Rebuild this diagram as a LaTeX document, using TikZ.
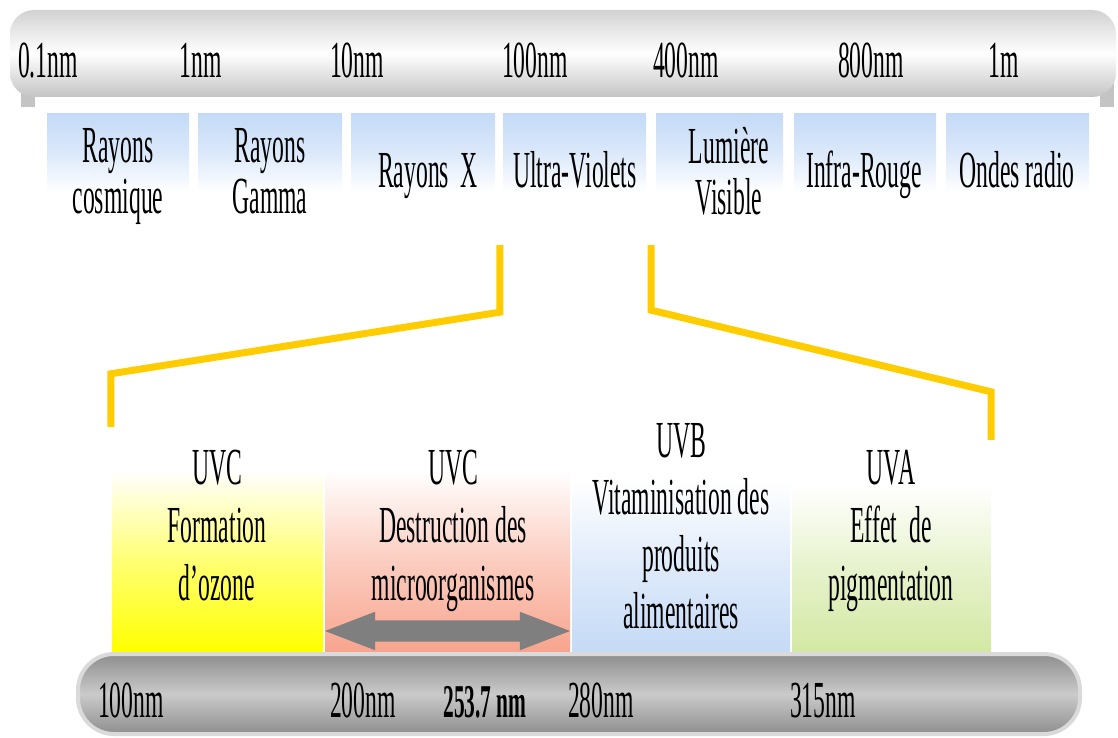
\documentclass[tikz,border=0pt]{standalone}
\usepackage{fontspec}
\setmainfont{Liberation Serif}[FakeStretch=0.455]
\usetikzlibrary{shapes.arrows}
\definecolor{barlight}{HTML}{D2D2D2}
\definecolor{bardark}{HTML}{C4C4C4}
\definecolor{bandblue}{HTML}{C4DAF7}
\definecolor{uvyellow}{HTML}{FFCC00}
\definecolor{ozoneyellow}{HTML}{FFFF00}
\definecolor{germred}{HTML}{F8A48D}
\definecolor{vitblue}{HTML}{C5DAF6}
\definecolor{piggreen}{HTML}{D3E8A3}
\definecolor{arrowgray}{HTML}{7F7F7F}
\definecolor{lowdark}{HTML}{8E8E8E}
\definecolor{lowmid}{HTML}{CACACA}
\definecolor{lowedge}{HTML}{DADADA}
\tikzset{
  every node/.style={inner sep=0pt},
  scale label/.style={anchor=base, font=\fontsize{52}{51}\selectfont},
  band label/.style={anchor=base, align=center, font=\fontsize{52}{51}\selectfont},
  panel label/.style={anchor=base, align=center, font=\fontsize{52}{58}\selectfont},
  band/.style={top color=bandblue, bottom color=white, middle color=bandblue!60, minimum height=78pt},
  panel/.style={top color=white, bottom color=#1, middle color=#1!55},
  bracket/.style={draw=uvyellow, line width=7pt},
}

\begin{document}
\begin{tikzpicture}[x=1pt, y=-1pt]
\useasboundingbox (0,0) rectangle (1118,738);
% Spectrum bar
    \fill[bardark] (21,80) rectangle (35,107);
    \fill[bardark] (1100,80) rectangle (1114,107);
    \shade[top color=barlight, bottom color=bardark, middle color=white, rounded corners=24pt] (10,10) rectangle (1116,97);
    \node[scale label] (s01) at (48,78) {0.1nm};
    \node[scale label] (s1) at (201,78) {1nm};
    \node[scale label] (s10) at (357,78) {10nm};
    \node[scale label] (s100) at (535,78) {100nm};
    \node[scale label] (s400) at (686,78) {400nm};
    \node[scale label] (s800) at (871,78) {800nm};
    \node[scale label] (s1m) at (1004,78) {1m};
% Domains
    \foreach \n/\x/\w in {cosmic/118/142, gamma/270/144, xray/423/144, uv/574.5/143,
                          visible/719.5/127, ir/865/142, radio/1017.5/143}
        \node[band, minimum width=\w pt] (\n) at (\x,153) {};
    \node[band label] (cosmicT) at (118,213) {Rayons\\cosmique};
    \node[band label] (gammaT) at (270,213) {Rayons\\Gamma};
    \node[band label] (xrayT) at (428,188) {Rayons\ \ X};
    \node[band label] (uvT) at (575,188) {Ultra-Violets};
    \node[band label] (visibleT) at (729,214) {Lumière\\Visible};
    \node[band label] (irT) at (864,188) {Infra-Rouge};
    \node[band label] (radioT) at (1017,188) {Ondes radio};
% UV detail
    \node[panel=ozoneyellow, minimum width=211pt, minimum height=182pt] (ozone) at (217.5,561) {};
    \node[panel=germred, minimum width=245pt, minimum height=182pt] (germ) at (447.5,561) {};
    \node[panel=vitblue, minimum width=218pt, minimum height=172pt] (vit) at (681,566) {};
    \node[panel=piggreen, minimum width=199pt, minimum height=167pt] (pig) at (891.5,568.5) {};
    \draw[bracket] ([xshift=-3pt,yshift=-53pt]uv.south west) -- ++(0,67)
        -- ([xshift=-1pt,yshift=96pt]ozone.north west) -- ([xshift=-1pt,yshift=43pt]ozone.north west);
    \draw[bracket] ([xshift=5pt,yshift=-53pt]uv.south east) -- ++(0,65)
        -- ([yshift=93pt]pig.north east) -- ([yshift=45pt]pig.north east);
    \node[double arrow, fill=arrowgray, minimum height=245pt, inner xsep=0pt, inner ysep=10.5pt,
          double arrow head extend=8.5pt, double arrow tip angle=42] (killing) at (447.5,631) {};
    \node[panel label] (ozoneT) at (217,600) {UVC\\Formation\\d’ozone};
    \node[panel label] (germT) at (453,600) {UVC\\Destruction des\\microorganismes};
    \node[panel label, font=\fontsize{52}{57}\selectfont] (vitT) at (681,628) {UVB\\Vitaminisation des\\produits\\alimentaires};
    \node[panel label] (pigT) at (891,600) {UVA\\Effet\ \ de\\pigmentation};
% UV bar
    \shade[top color=lowdark, bottom color=lowdark, middle color=lowmid, draw=lowedge,
           line width=4pt, rounded corners=36pt] (78,654) rectangle (1080,734);
    \node[scale label] (u100) at (131,717) {100nm};
    \node[scale label] (u200) at (363,717) {200nm};
    \node[scale label, font=\fontsize{47}{47}\selectfont\bfseries] (u2537) at (485,717) {253.7 nm};
    \node[scale label] (u280) at (601,717) {280nm};
    \node[scale label] (u315) at (823,717) {315nm};
\end{tikzpicture}
\end{document}
